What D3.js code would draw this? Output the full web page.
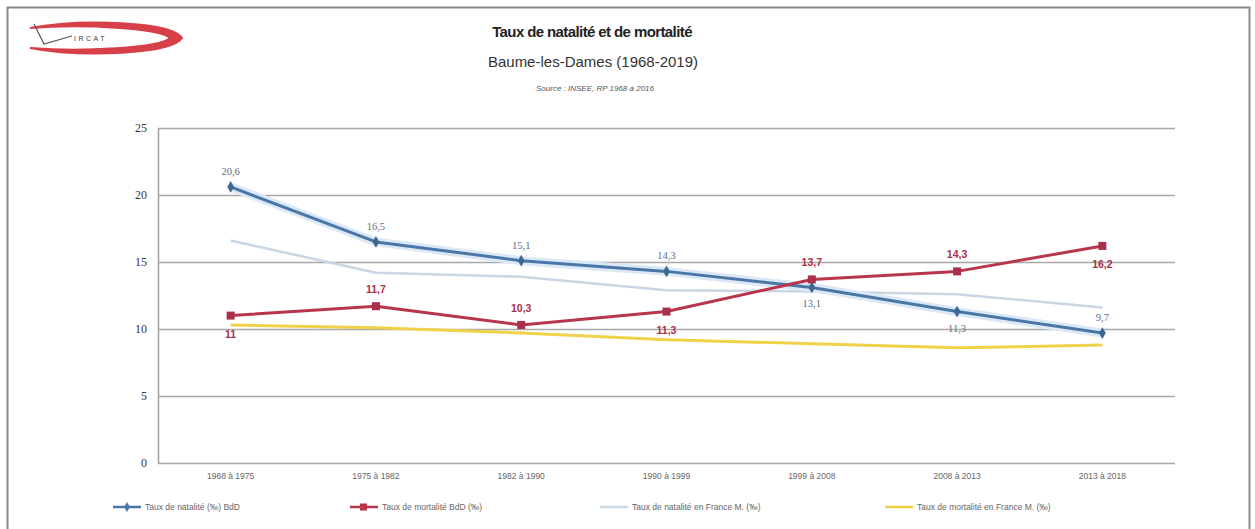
<!DOCTYPE html>
<html>
<head>
<meta charset="utf-8">
<script src="https://cdn.jsdelivr.net/npm/d3@7"></script>
<style>
  body { margin: 0; background: #fff; }
  svg { display: block; font-family: "Liberation Sans", Arial, sans-serif; }
</style>
</head>
<body>
<div id="chart"></div>
<script>
// periods on the x axis
var periods = ["1968 à 1975", "1975 à 1982", "1982 à 1990", "1990 à 1999", "1999 à 2008", "2008 à 2013", "2013 à 2018"];

// rates in per mille
var natBdD = [20.6, 16.5, 15.1, 14.3, 13.1, 11.3, 9.7];
var mortBdD = [11.0, 11.7, 10.3, 11.3, 13.7, 14.3, 16.2];
var natFrance = [16.6, 14.2, 13.9, 12.9, 12.8, 12.6, 11.6];
var mortFrance = [10.3, 10.1, 9.7, 9.2, 8.9, 8.6, 8.8];

// label side for each data label: -1 above, 1 below
var natLabelSide = [-1, -1, -1, -1, 1, 1, -1];
var mortLabelSide = [1, -1, -1, 1, -1, -1, 1];

var yTicks = [0, 5, 10, 15, 20, 25];
var legendNames = ["Taux de natalité (‰) BdD", "Taux de mortalité BdD (‰)",
    "Taux de natalité en France M. (‰)", "Taux de mortalité en France M. (‰)"];

var W = 1255, H = 529;
var BLUE = "#4a77a8", RED = "#b8364c", LIGHT = "#c9d6e3", YELLOW = "#efd24a";

var svg = d3.select("#chart").append("svg")
    .attr("width", W).attr("height", H);

// outer frame like the pasted excel chart
svg.append("rect")
    .attr("x", 7.5).attr("y", 7.5)
    .attr("width", W - 13).attr("height", H - 6)
    .attr("fill", "none").attr("stroke", "#8a8a8a").attr("stroke-width", 2);

// logo
var logo = svg.append("g").attr("transform", "translate(22,20)");
logo.append("path")
    .attr("d", "M8,8 C60,-2 150,2 160,18 C150,34 60,38 8,28 C60,32 138,28 148,18 C138,8 60,4 8,8 Z")
    .attr("fill", "#d11f2a").attr("stroke", "#d11f2a").attr("stroke-width", 2).attr("opacity", 0.85);
logo.append("path")
    .attr("d", "M12,4 L22,24 L50,16")
    .attr("fill", "none").attr("stroke", "#555").attr("stroke-width", 1.2);
logo.append("text")
    .attr("x", 52).attr("y", 21).attr("font-size", 7).attr("fill", "#444")
    .attr("letter-spacing", 2.5).text("IRCAT");

// titles
svg.append("text").attr("x", 592).attr("y", 37).attr("text-anchor", "middle")
    .attr("font-size", 15).attr("font-weight", "bold").attr("fill", "#222")
    .attr("letter-spacing", -0.6)
    .text("Taux de natalité et de mortalité");
svg.append("text").attr("x", 593).attr("y", 67).attr("text-anchor", "middle")
    .attr("font-size", 15).attr("fill", "#333")
    .text("Baume-les-Dames  (1968-2019)");
svg.append("text").attr("x", 595).attr("y", 91).attr("text-anchor", "middle")
    .attr("font-size", 8).attr("font-style", "italic").attr("fill", "#555")
    .text("Source : INSEE, RP 1968 à 2016");

// scales
var plotLeft = 158, plotRight = 1175, plotTop = 128, plotBottom = 463;
var x = d3.scaleBand().domain(periods).range([plotLeft, plotRight]);
var y = d3.scaleLinear().domain([0, 25]).range([plotBottom, plotTop]);
var cx = function(d, i) { return x(periods[i]) + x.bandwidth() / 2; };

// grid
svg.append("g").selectAll("line").data(yTicks).join("line")
    .attr("x1", plotLeft).attr("x2", plotRight)
    .attr("y1", function(d) { return Math.round(y(d)) + 0.5; })
    .attr("y2", function(d) { return Math.round(y(d)) + 0.5; })
    .attr("stroke", "#a8a8a8").attr("stroke-width", 1.5);

// y axis
var yAxis = svg.append("g").attr("transform", "translate(" + plotLeft + ",0)")
    .call(d3.axisLeft(y).tickValues(yTicks).tickSize(0).tickPadding(11));
yAxis.select(".domain").attr("stroke", "#a0a0a0").attr("stroke-width", 1.5);
yAxis.selectAll("text").attr("font-size", 12).attr("fill", "#333")
    .attr("font-family", "Liberation Serif, serif");

// x axis
var xAxis = svg.append("g").attr("transform", "translate(0," + plotBottom + ")")
    .call(d3.axisBottom(x).tickSize(0).tickPadding(10));
xAxis.select(".domain").remove();
xAxis.selectAll("text").attr("font-size", 8.5).attr("fill", "#666");

var line = d3.line().x(cx).y(function(d) { return y(d); });

function drawSeries(values, color, width) {
    svg.append("path").datum(values)
        .attr("d", line).attr("fill", "none")
        .attr("stroke", color).attr("stroke-width", width)
        .attr("stroke-linejoin", "round");
}

// France lines first, they sit behind
drawSeries(natFrance, LIGHT, 2.5);
drawSeries(mortFrance, YELLOW, 3);

// soft glow under the blue line
svg.append("path").datum(natBdD).attr("d", line).attr("fill", "none")
    .attr("stroke", "#dbe9f7").attr("stroke-width", 9).attr("stroke-linejoin", "round");
drawSeries(natBdD, BLUE, 3);
drawSeries(mortBdD, RED, 3);

// markers
svg.append("g").selectAll("path").data(natBdD).join("path")
    .attr("transform", function(d, i) { return "translate(" + cx(d, i) + "," + y(d) + ")"; })
    .attr("d", d3.symbol(d3.symbolDiamond, 40))
    .attr("fill", "#3e6892");
svg.append("g").selectAll("rect").data(mortBdD).join("rect")
    .attr("x", function(d, i) { return cx(d, i) - 4; })
    .attr("y", function(d) { return y(d) - 4; })
    .attr("width", 8).attr("height", 8)
    .attr("fill", "#a8304a");

var fmt = function(v) { return String(v).replace(".", ","); };

svg.append("g").selectAll("text").data(natBdD).join("text")
    .attr("x", cx)
    .attr("y", function(d, i) { return y(d) + (natLabelSide[i] < 0 ? -12 : 20); })
    .attr("text-anchor", "middle").attr("font-size", 10.5)
    .attr("font-family", "Liberation Serif, serif")
    .attr("fill", "#5b6f88").text(fmt);

svg.append("g").selectAll("text").data(mortBdD).join("text")
    .attr("x", cx)
    .attr("y", function(d, i) { return y(d) + (mortLabelSide[i] < 0 ? -13 : 22); })
    .attr("text-anchor", "middle").attr("font-size", 10.5).attr("font-weight", "bold")
    .attr("fill", "#a8304a").text(fmt);

// legend
var legendX = [113, 350, 600, 885];
var legendColors = [BLUE, RED, LIGHT, YELLOW];
var lg = svg.append("g").selectAll("g").data(legendNames).join("g")
    .attr("transform", function(d, i) { return "translate(" + legendX[i] + ",507)"; });
lg.append("line").attr("x1", 0).attr("x2", 28).attr("y1", 0).attr("y2", 0)
    .attr("stroke", function(d, i) { return legendColors[i]; }).attr("stroke-width", 2.5);
lg.filter(function(d, i) { return i === 0; }).append("path")
    .attr("transform", "translate(14,0)").attr("d", d3.symbol(d3.symbolDiamond, 30)).attr("fill", BLUE);
lg.filter(function(d, i) { return i === 1; }).append("rect")
    .attr("x", 10).attr("y", -3.5).attr("width", 7).attr("height", 7).attr("fill", RED);
lg.append("text").attr("x", 32).attr("y", 3).attr("font-size", 8.5).attr("fill", "#666")
    .text(function(d) { return d; });
</script>
</body>
</html>
